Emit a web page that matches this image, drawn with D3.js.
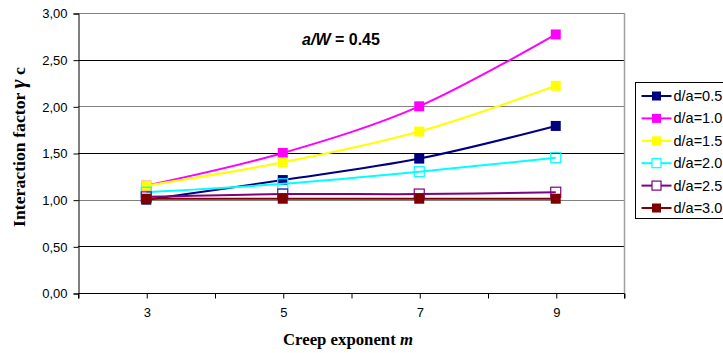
<!DOCTYPE html>
<html>
<head>
<meta charset="utf-8">
<script src="https://cdn.jsdelivr.net/npm/d3@7"></script>
<style>
  body { margin: 0; background: #fff; }
  svg { display: block; }
</style>
</head>
<body>
<div id="chart"></div>
<script>
var width = 723, height = 353;

// data
var exponents = [3, 5, 7, 9];
var seriesNames = ["d/a=0.5", "d/a=1.0", "d/a=1.5", "d/a=2.0", "d/a=2.5", "d/a=3.0"];
var da05 = [1.00, 1.21, 1.44, 1.79];
var da10 = [1.15, 1.50, 2.00, 2.77];
var da15 = [1.15, 1.40, 1.73, 2.22];
var da20 = [1.08, 1.17, 1.30, 1.45];
var da25 = [1.03, 1.06, 1.06, 1.08];
var da30 = [1.01, 1.01, 1.01, 1.01];
var seriesColors = ["#000080", "#ff00ff", "#ffff00", "#00ffff", "#800080", "#800000"];
var seriesHollow = [false, false, false, true, true, false];
var yTicks = [0, 0.5, 1, 1.5, 2, 2.5, 3];
var xTicks = [2, 3, 4, 5, 6, 7, 8, 9, 10];
var xLabels = [3, 5, 7, 9];

var seriesValues = [da05, da10, da15, da20, da25, da30];
var series = seriesNames.map(function (name, i) {
    return {
        name: name,
        color: seriesColors[i],
        hollow: seriesHollow[i],
        points: exponents.map(function (m, j) { return { m: m, v: seriesValues[i][j] }; })
    };
});

var plot = { left: 78, right: 624, top: 13, bottom: 293 };
var sans = "Arial, 'Liberation Sans', sans-serif";
var serif = "'Times New Roman', 'Liberation Serif', serif";

var x = d3.scaleLinear().domain([2, 10]).range([plot.left, plot.right]);
var y = d3.scaleLinear().domain([0, 3]).range([plot.bottom, plot.top]);

var svg = d3.select("#chart").append("svg")
    .attr("width", width)
    .attr("height", height);

svg.append("rect").attr("width", width).attr("height", height).attr("fill", "#fff");

// gridlines
svg.append("g")
    .selectAll("line")
    .data(yTicks.slice(1))
    .enter()
    .append("line")
    .attr("x1", plot.left)
    .attr("x2", plot.right)
    .attr("y1", function (d) { return Math.round(y(d)) + 0.5; })
    .attr("y2", function (d) { return Math.round(y(d)) + 0.5; })
    .attr("stroke", function (d, i) { return i % 2 === 0 ? "#000" : "#808080"; })
    .attr("stroke-width", 1);

// right border
svg.append("line")
    .attr("x1", plot.right + 0.5).attr("x2", plot.right + 0.5)
    .attr("y1", plot.top).attr("y2", plot.bottom)
    .attr("stroke", "#a0a0a0").attr("stroke-width", 1.5);

// y axis
var yAxis = d3.axisLeft(y)
    .tickValues(yTicks)
    .tickSize(5)
    .tickFormat(function (d) { return d3.format(".2f")(d).replace(".", ","); });

svg.append("g")
    .attr("transform", "translate(" + (plot.left + 0.5) + ",0.5)")
    .call(yAxis)
    .call(function (g) {
        g.select(".domain").attr("stroke", "#000");
        g.selectAll(".tick line").attr("stroke", "#000");
        g.selectAll("text")
            .attr("font-family", sans)
            .attr("font-size", 13)
            .attr("fill", "#000")
            .attr("x", -11);
    });

// x axis
var xAxis = d3.axisBottom(x)
    .tickValues(xTicks)
    .tickSize(5)
    .tickPadding(9)
    .tickFormat(function (d) { return xLabels.indexOf(d) >= 0 ? d : ""; });

svg.append("g")
    .attr("transform", "translate(0.5," + (plot.bottom + 0.5) + ")")
    .call(xAxis)
    .call(function (g) {
        g.select(".domain").attr("stroke", "#000").attr("d", "M" + plot.left + ",5V0H" + plot.right + "V5");
        g.selectAll(".tick line").attr("stroke", "#000");
        g.selectAll("text")
            .attr("font-family", sans)
            .attr("font-size", 13)
            .attr("fill", "#000");
    });

// lines
var line = d3.line()
    .x(function (d) { return x(d.m); })
    .y(function (d) { return y(d.v); })
    .curve(d3.curveCatmullRom.alpha(0));

var groups = svg.append("g")
    .selectAll("g")
    .data(series)
    .enter()
    .append("g");

groups.append("path")
    .attr("d", function (d) { return line(d.points); })
    .attr("fill", "none")
    .attr("stroke", function (d) { return d.color; })
    .attr("stroke-width", 2);

var size = 10;
groups.selectAll("rect")
    .data(function (d) { return d.points.map(function (p) { return { p: p, s: d }; }); })
    .enter()
    .append("rect")
    .attr("x", function (d) { return x(d.p.m) - size / 2; })
    .attr("y", function (d) { return y(d.p.v) - size / 2; })
    .attr("width", size)
    .attr("height", size)
    .attr("fill", function (d) { return d.s.hollow ? "#fff" : d.s.color; })
    .attr("fill-opacity", function (d) { return d.s.hollow ? 0 : 1; })
    .attr("stroke", function (d) { return d.s.color; })
    .attr("stroke-width", function (d) { return d.s.hollow ? 1.2 : 0; });

// annotation
svg.append("text")
    .attr("x", 341)
    .attr("y", 45)
    .attr("text-anchor", "middle")
    .attr("font-family", sans)
    .attr("font-size", 16)
    .attr("font-weight", "bold")
    .call(function (t) {
        t.append("tspan").attr("font-style", "italic").text("a/W");
        t.append("tspan").text(" = 0.45");
    });

// axis titles
svg.append("text")
    .attr("transform", "translate(25,147) rotate(-90)")
    .attr("text-anchor", "middle")
    .attr("font-family", serif)
    .attr("font-size", 17)
    .attr("font-weight", "bold")
    .attr("textLength", 160)
    .attr("lengthAdjust", "spacingAndGlyphs")
    .call(function (t) {
        t.append("tspan").text("Interaction factor ");
        t.append("tspan").attr("font-style", "italic").attr("font-size", 21).text("γ");
        t.append("tspan").text(" c");
    });

svg.append("text")
    .attr("x", 348)
    .attr("y", 345)
    .attr("text-anchor", "middle")
    .attr("font-family", serif)
    .attr("font-size", 16.5)
    .attr("font-weight", "bold")
    .attr("textLength", 130)
    .attr("lengthAdjust", "spacingAndGlyphs")
    .call(function (t) {
        t.append("tspan").text("Creep exponent ");
        t.append("tspan").attr("font-style", "italic").text("m");
    });

// legend
var legend = svg.append("g").attr("transform", "translate(635.5,82.5)");
legend.append("rect")
    .attr("width", 100)
    .attr("height", 136)
    .attr("fill", "#fff")
    .attr("stroke", "#000")
    .attr("stroke-width", 1);

var items = legend.selectAll("g.item")
    .data(series)
    .enter()
    .append("g")
    .attr("class", "item")
    .attr("transform", function (d, i) { return "translate(0," + (13.5 + i * 22.4) + ")"; });

items.append("line")
    .attr("x1", 6).attr("x2", 36)
    .attr("stroke", function (d) { return d.color; })
    .attr("stroke-width", 2);

items.append("rect")
    .attr("x", 21 - size / 2 + 0.5)
    .attr("y", -size / 2 + 0.5)
    .attr("width", size - 1)
    .attr("height", size - 1)
    .attr("fill", function (d) { return d.hollow ? "#fff" : d.color; })
    .attr("stroke", function (d) { return d.color; })
    .attr("stroke-width", function (d) { return d.hollow ? 1.2 : 0; });

items.append("text")
    .attr("x", 38)
    .attr("y", 5)
    .attr("font-family", sans)
    .attr("font-size", 14.5)
    .text(function (d) { return d.name; });
</script>
</body>
</html>
